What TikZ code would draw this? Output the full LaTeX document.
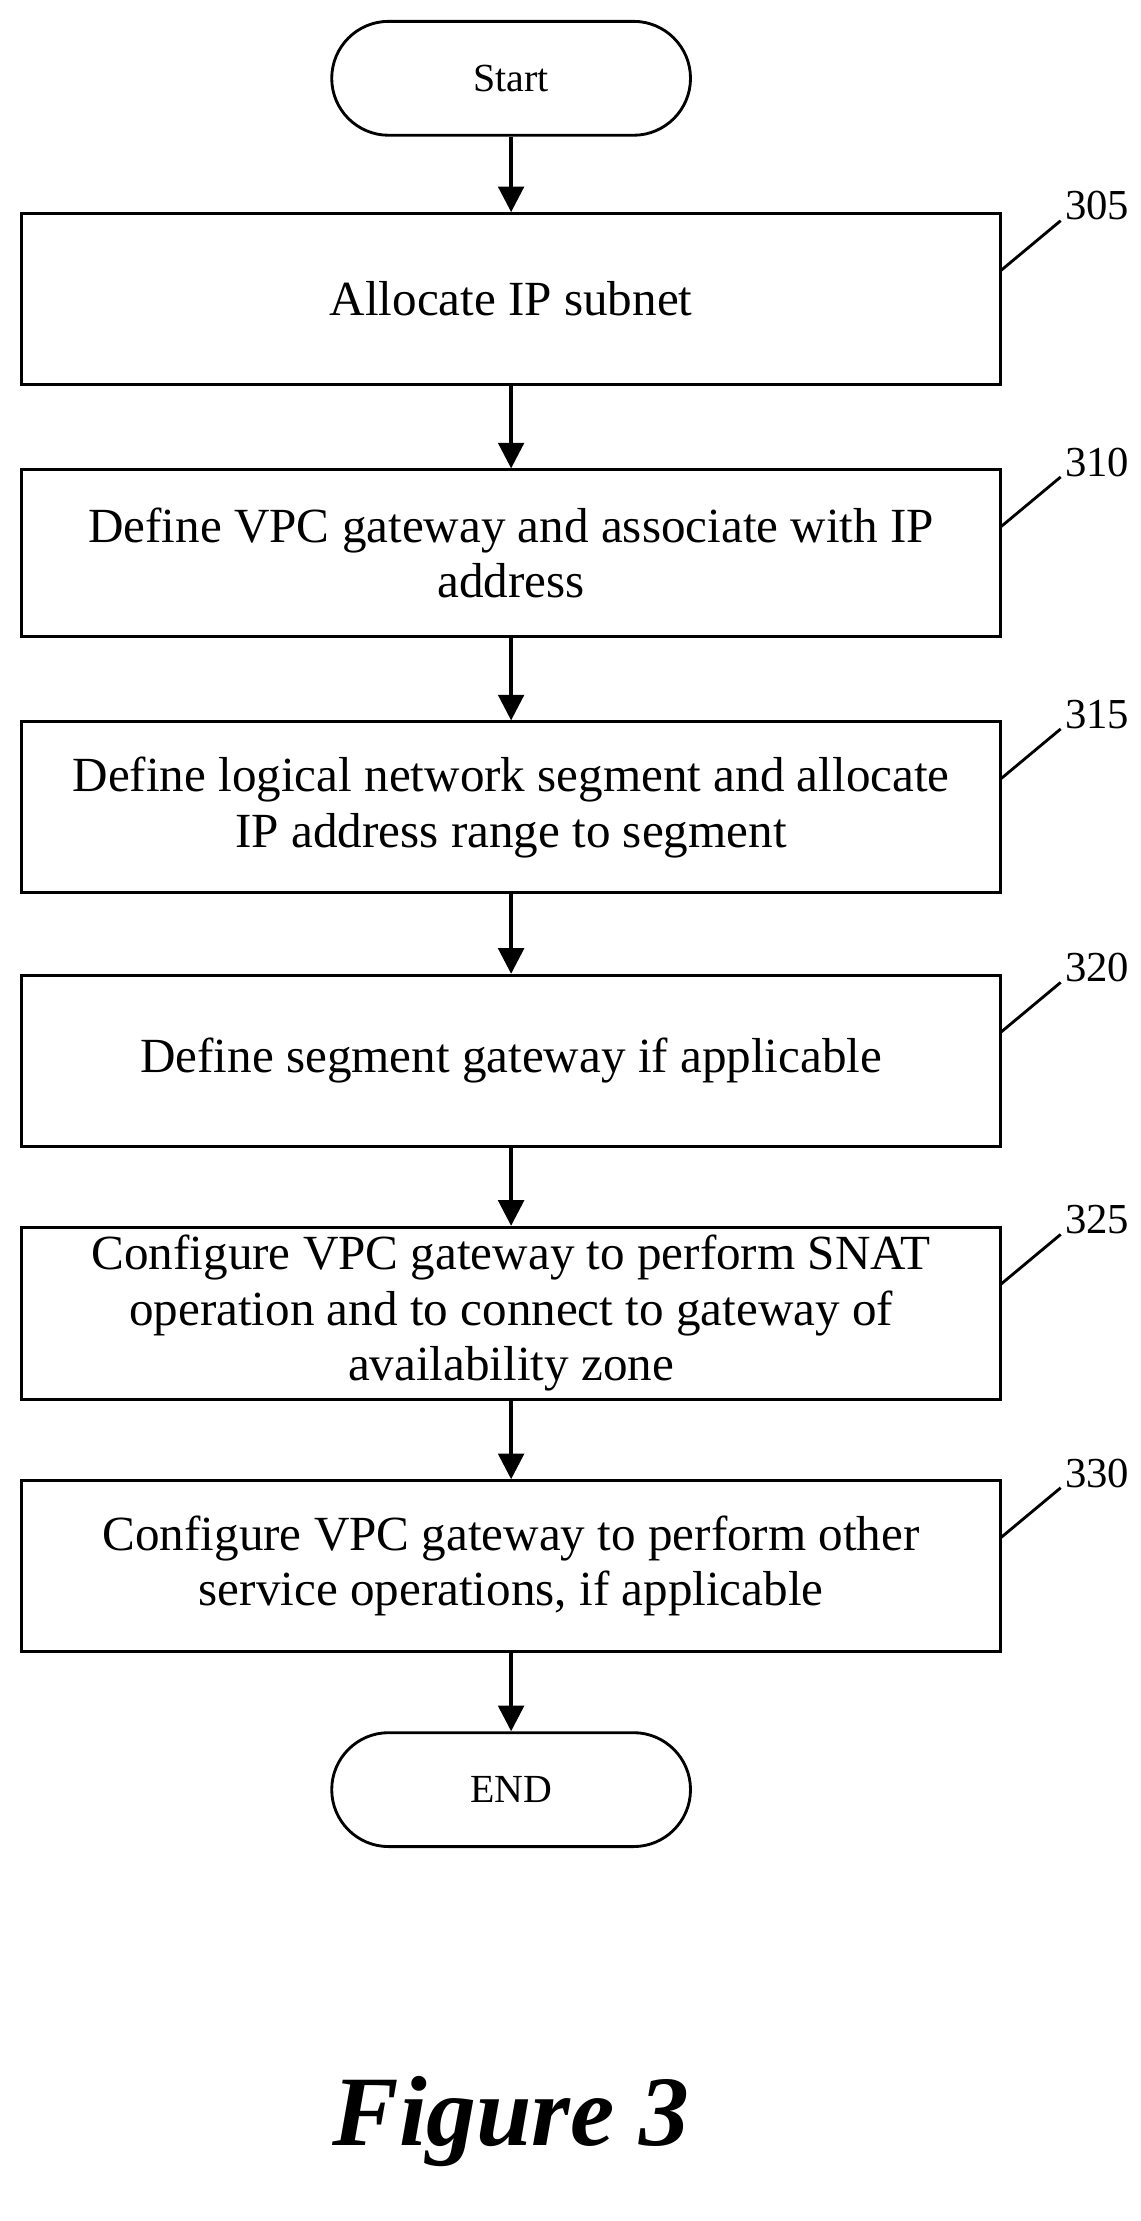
\documentclass[tikz,border=0pt]{standalone}
\usepackage{fontspec}
\setmainfont{Liberation Serif}
\usetikzlibrary{arrows.meta}
\begin{document}
\begin{tikzpicture}[x=1pt,y=-1pt,
 box/.style={draw,line width=2pt,minimum width=688pt,minimum height=120pt,align=center,font=\fontsize{34.5}{39}\selectfont,inner sep=0pt},
 term/.style={draw,line width=2pt,rounded corners=40pt,minimum width=252pt,minimum height=80pt,font=\fontsize{28}{32}\selectfont},
 arr/.style={line width=2.5pt,-{Triangle[length=18pt,width=18pt]}},
 lab/.style={font=\fontsize{30}{34}\selectfont},
 lead/.style={line width=2pt}]
\useasboundingbox (0,0) rectangle (801,1560);
\node[term] (s) at (359,55) {Start};
\node[box] (b1) at (359,210) {Allocate IP subnet};
\node[box,minimum height=117pt] (b2) at (359,388.5) {Define VPC gateway and associate with IP\\address};
\node[box] (b3) at (359,567) {Define logical network segment and allocate\\IP address range to segment};
\node[box] (b4) at (359,745) {Define segment gateway if applicable};
\node[box,minimum height=121pt] (b5) at (359,922.5) {Configure VPC gateway to perform SNAT\\operation and to connect to gateway of\\availability zone};
\node[box] (b6) at (359,1100) {Configure VPC gateway to perform other\\service operations, if applicable};
\node[term] (e) at (359,1257) {END};
\draw[arr] (s) -- (b1); \draw[arr] (b1) -- (b2); \draw[arr] (b2) -- (b3);
\draw[arr] (b3) -- (b4); \draw[arr] (b4) -- (b5); \draw[arr] (b5) -- (b6); \draw[arr] (b6) -- (e);
\foreach \n/\t/\y in {b1/305/150,b2/310/330,b3/315/507,b4/320/685,b5/325/862,b6/330/1040}{
 \coordinate (c\n) at (745,\y+5);
 \draw[lead] (703,\y+40) -- (c\n);
 \node[lab,anchor=south west,inner sep=0pt] (l\n) at (748,\y+5) {\t};
}
\node[font=\fontsize{70}{76}\selectfont\bfseries\itshape] (f) at (359,1490) {Figure 3};
\end{tikzpicture}
\end{document}
